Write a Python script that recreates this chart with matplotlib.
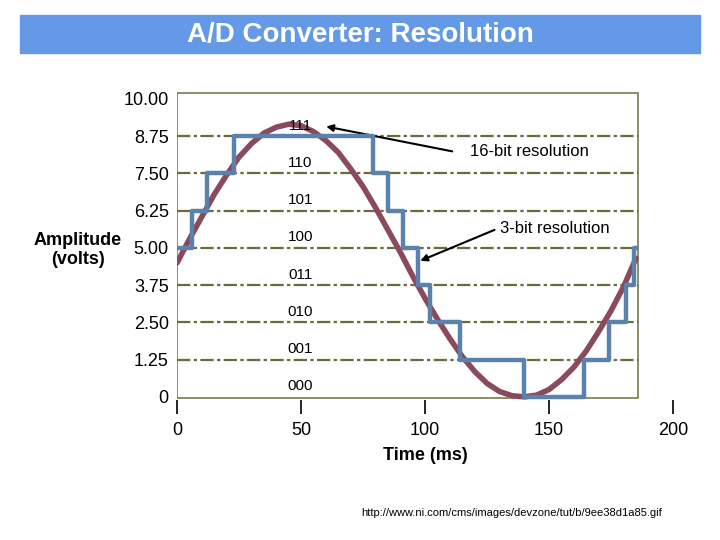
import matplotlib
matplotlib.use('Agg')
import matplotlib.pyplot as plt
from matplotlib.patches import Rectangle

# analog signal (ms, volts)
sig_t = [0, 5, 10, 15, 20, 25, 30, 35, 40, 45, 50, 55, 60, 65, 70, 75, 80, 85, 90,
         95, 100, 105, 110, 115, 120, 125, 130, 135, 140, 145, 150, 155, 160, 165,
         170, 175, 180, 185]
sig_v = [4.5, 5.3, 6.05, 6.8, 7.45, 8.05, 8.5, 8.85, 9.05, 9.15, 9.1, 8.9, 8.6, 8.2,
         7.65, 7.05, 6.35, 5.6, 4.85, 4.05, 3.3, 2.6, 1.95, 1.35, 0.85, 0.45, 0.18,
         0.04, 0.0, 0.06, 0.25, 0.58, 1.0, 1.55, 2.2, 2.9, 3.7, 4.65]

# 3-bit quantised signal: segment start times and levels
step_t = [0, 6, 12, 23, 79, 85, 91, 97, 102, 114, 140, 164, 174, 181, 184, 185]
step_v = [5.0, 6.25, 7.5, 8.75, 7.5, 6.25, 5.0, 3.75, 2.5, 1.25, 0.0, 1.25, 2.5, 3.75, 5.0, 5.0]

levels = [1.25, 2.5, 3.75, 5.0, 6.25, 7.5, 8.75]
codes = ['000', '001', '010', '011', '100', '101', '110', '111']
yticks = [0, 1.25, 2.5, 3.75, 5.0, 6.25, 7.5, 8.75, 10.0]
ytick_labels = ['0', '1.25', '2.50', '3.75', '5.00', '6.25', '7.50', '8.75', '10.00']
xticks = [0, 50, 100, 150, 200]

font = 'Liberation Sans'

fig = plt.figure(figsize=(7.2, 5.4), dpi=100)

# title bar
fig.patches.append(Rectangle((20 / 720, 1 - 53 / 540), 680 / 720, 38 / 540,
                             transform=fig.transFigure, color='#6499e8', zorder=0))
fig.text(0.5, 1 - 35 / 540, 'A/D Converter: Resolution', ha='center', va='center',
         fontsize=20, fontweight='bold', family=font, color='white')
fig.text(512 / 720, 1 - 513 / 540, 'http://www.ni.com/cms/images/devzone/tut/b/9ee38d1a85.gif',
         ha='center', va='center', fontsize=8, family=font)

ax = fig.add_axes([0.246, 0.2595, 0.689, 0.574])
ax.set_xlim(0, 200)
ax.set_ylim(-0.1, 10.3)
for s in ax.spines.values():
    s.set_visible(False)

ax.add_patch(Rectangle((0, -0.05), 186, 10.25, fill=False, edgecolor='#7a7a50', lw=1.2))
for lv in levels:
    ax.plot([0, 186], [lv, lv], color='#6b6b3a', lw=1.6, dashes=(6, 1.5, 1.5, 1.5))

ax.plot(sig_t, sig_v, color='#8a4a5e', lw=4, solid_capstyle='round', zorder=3)
ax.step(step_t, step_v, where='post', color='#5b82aa', lw=3.2, zorder=4)

for i, c in enumerate(codes):
    ax.text(49.6, i * 1.25 + 0.35, c, ha='center', va='center', fontsize=11, family=font)

ax.annotate('', xy=(59, 9.09), xytext=(112, 8.22),
            arrowprops=dict(arrowstyle='-|>', color='black', lw=1.5))
ax.text(118, 8.22, '16-bit resolution', ha='left', va='center', fontsize=12, family=font)
ax.annotate('', xy=(97, 4.53), xytext=(129, 5.64),
            arrowprops=dict(arrowstyle='-|>', color='black', lw=1.5))
ax.text(130, 5.64, '3-bit resolution', ha='left', va='center', fontsize=12, family=font)

ax.set_xticks(xticks)
ax.set_xticklabels([str(v) for v in xticks], family=font, fontsize=13)
ax.set_yticks(yticks)
ax.set_yticklabels(ytick_labels, family=font, fontsize=13)
ax.tick_params(axis='x', length=10, width=1.2, direction='out', pad=6)
ax.tick_params(axis='y', length=0, pad=6)
ax.set_xlabel('Time (ms)', family=font, fontsize=13, fontweight='bold', labelpad=6)
fig.text(78 / 720, 1 - 250 / 540, 'Amplitude\n(volts)', ha='center', va='center',
         family=font, fontsize=13, fontweight='bold')

fig.savefig('out.png', dpi=100)
